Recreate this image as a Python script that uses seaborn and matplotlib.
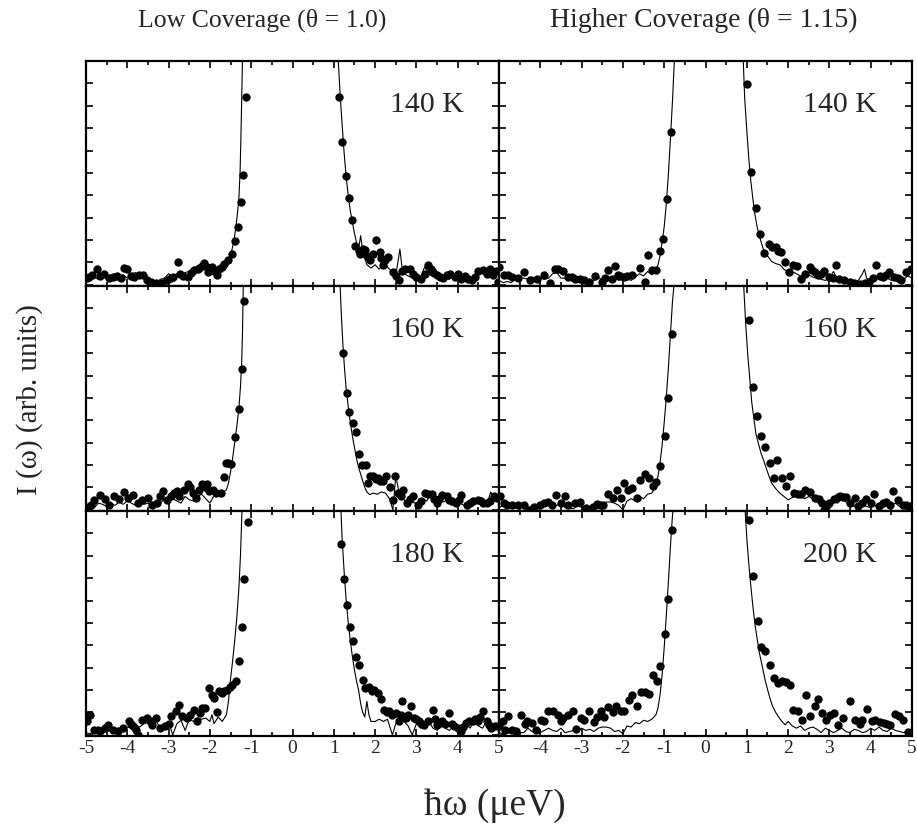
import numpy as np
import pandas as pd
import matplotlib
matplotlib.use("Agg")
import matplotlib.pyplot as plt
from matplotlib.ticker import MultipleLocator
import seaborn as sns

# ---------------- data (y in tick units, 0..10 per panel) ----------------
col_titles = ["Low Coverage (\u03b8 = 1.0)", "Higher Coverage (\u03b8 = 1.15)"]
panel_labels = [["140 K", "140 K"], ["160 K", "160 K"], ["180 K", "200 K"]]
x_ticks = [-5, -4, -3, -2, -1, 0, 1, 2, 3, 4, 5]

low140_dots = [(-4.98,0.3),(-4.93,0.36),(-4.85,0.45),(-4.74,0.73),(-4.65,0.4),(-4.56,0.5),(-4.45,0.3),(-4.35,0.35),
    (-4.24,0.4),(-4.15,0.3),(-4.07,0.75),(-4.0,0.73),(-3.9,0.4),(-3.83,0.36),(-3.72,0.45),(-3.63,0.43),(-3.52,0.2),
    (-3.43,0.13),(-3.3,0.1),(-3.15,0.09),(-3.05,0.2),(-2.95,0.3),(-2.9,0.36),(-2.78,1.0),(-2.72,0.5),(-2.66,0.39),
    (-2.54,0.36),(-2.45,0.55),(-2.38,0.65),(-2.3,0.7),(-2.26,0.77),(-2.2,0.85),(-2.14,0.98),(-2.08,0.8),(-2.04,0.58),
    (-1.96,0.8),(-1.9,0.6),(-1.83,0.43),(-1.77,0.73),(-1.7,0.8),(-1.65,0.95),(-1.55,1.13),(-1.46,1.39),(-1.40,1.97),
    (-1.32,2.6),(-1.25,3.69),(-1.19,4.93),(-1.12,8.4),
    (1.12,8.4),(1.21,6.37),(1.29,4.86),(1.36,3.87),(1.45,2.9),(1.52,1.72),(1.6,1.5),(1.63,1.36),(1.7,1.6),(1.75,1.54),
    (1.8,1.3),(1.87,1.1),(1.95,1.4),(2.03,1.99),(2.11,1.47),(2.15,1.2),(2.19,0.87),(2.25,1.1),(2.31,1.24),(2.43,0.58),
    (2.5,0.4),(2.59,0.21),(2.66,0.6),(2.72,0.73),(2.84,0.73),(2.92,0.5),(3.0,0.36),(3.12,0.28),(3.2,0.5),(3.29,0.87),
    (3.35,0.7),(3.41,0.58),(3.5,0.45),(3.57,0.36),(3.65,0.3),(3.73,0.43),(3.82,0.5),(3.93,0.36),(4.0,0.5),(4.09,0.28),
    (4.17,0.4),(4.26,0.28),(4.35,0.2),(4.42,0.35),(4.5,0.62),(4.62,0.65),(4.7,0.5),(4.78,0.73),(4.86,0.43),(4.93,0.6),
    (4.98,0.13)]
low140_fit = [(-5.0,0.3),(-4.9,0.2),(-4.8,0.35),(-4.7,0.25),(-4.6,0.4),(-4.5,0.3),(-4.4,0.35),(-4.3,0.2),(-4.2,0.3),
    (-4.1,0.45),(-4.0,0.3),(-3.9,0.5),(-3.8,0.55),(-3.7,0.4),(-3.6,0.3),(-3.5,0.2),(-3.4,0.15),(-3.3,0.1),(-3.2,0.25),
    (-3.1,0.3),(-3.0,0.5),(-2.9,0.35),(-2.8,0.5),(-2.7,0.4),(-2.6,0.55),(-2.5,0.6),(-2.4,0.5),(-2.3,0.7),(-2.2,0.65),
    (-2.1,0.8),(-2.0,0.6),(-1.9,0.7),(-1.8,0.55),(-1.7,0.8),(-1.6,1.0),(-1.5,1.3),(-1.45,1.7),(-1.4,2.2),(-1.35,2.9),
    (-1.3,3.8),(-1.27,5.0),(-1.25,6.5),(-1.23,8.3),(-1.21,10.2),(0.0,60.0),(1.1,10.3),(1.15,8.6),(1.2,7.2),(1.25,5.9),
    (1.3,4.8),(1.35,4.0),(1.4,3.3),(1.45,2.8),(1.5,2.3),(1.55,1.9),(1.6,1.6),(1.65,2.2),(1.7,1.5),(1.8,0.9),(1.9,0.75),
    (2.0,0.9),(2.1,0.7),(2.2,0.95),(2.3,0.8),(2.4,0.6),(2.5,0.4),(2.55,1.0),(2.6,1.6),(2.65,0.8),(2.7,0.5),(2.8,0.4),
    (2.9,0.3),(3.0,0.5),(3.1,0.35),(3.2,0.8),(3.3,0.5),(3.4,0.35),(3.5,0.5),(3.6,0.4),(3.7,0.3),(3.8,0.25),(3.9,0.4),
    (4.0,0.3),(4.1,0.5),(4.2,0.35),(4.3,0.3),(4.4,0.2),(4.5,0.45),(4.6,0.6),(4.7,0.5),(4.8,0.55),(4.9,0.6),(5.0,0.7)]

low160_dots = [(-4.95,0.15),(-4.89,0.24),(-4.8,0.45),(-4.66,0.68),(-4.55,0.5),(-4.44,0.24),(-4.32,0.61),(-4.2,0.5),
    (-4.09,0.79),(-3.99,0.53),(-3.85,0.68),(-3.75,0.31),(-3.65,0.45),(-3.51,0.53),(-3.39,0.24),(-3.27,0.31),(-3.2,0.6),
    (-3.13,0.86),(-3.03,0.46),(-2.95,0.6),(-2.88,0.76),(-2.8,0.85),(-2.74,0.64),(-2.62,0.9),(-2.54,1.17),(-2.48,1.0),
    (-2.42,0.76),(-2.34,0.53),(-2.27,0.9),(-2.2,1.17),(-2.12,1.0),(-2.07,1.16),(-2.01,0.83),(-1.92,0.9),(-1.85,0.76),
    (-1.73,0.76),(-1.67,1.45),(-1.61,2.09),(-1.55,2.1),(-1.49,2.06),(-1.39,3.27),(-1.30,4.49),(-1.23,6.28),(-1.18,9.32),
    (1.23,6.99),(1.31,5.21),(1.38,4.36),(1.46,3.88),(1.53,3.47),(1.6,2.5),(1.68,1.99),(1.78,1.99),(1.83,1.2),(1.88,1.5),
    (1.95,1.5),(2.01,1.4),(2.07,1.42),(2.13,1.3),(2.19,1.27),(2.27,1.5),(2.35,1.02),(2.43,0.46),(2.48,1.53),(2.56,0.76),
    (2.62,0.6),(2.68,0.9),(2.78,0.31),(2.85,0.5),(2.92,0.64),(3.04,0.24),(3.1,0.4),(3.2,0.76),(3.28,0.7),(3.37,0.73),
    (3.43,0.5),(3.49,0.31),(3.55,0.5),(3.61,0.68),(3.73,0.61),(3.8,0.45),(3.85,0.39),(3.95,0.3),(4.02,0.45),(4.09,0.68),
    (4.22,0.24),(4.3,0.3),(4.38,0.39),(4.5,0.46),(4.56,0.4),(4.62,0.31),(4.7,0.3),(4.79,0.39),(4.88,0.6),(4.94,0.53)]
low160_fit = [(-5.0,0.15),(-4.9,0.2),(-4.8,0.1),(-4.7,0.3),(-4.6,0.25),(-4.5,0.15),(-4.4,0.3),(-4.3,0.2),(-4.2,0.35),
    (-4.1,0.25),(-4.0,0.4),(-3.9,0.3),(-3.8,0.2),(-3.7,0.35),(-3.6,0.25),(-3.5,0.3),(-3.4,0.2),(-3.3,0.4),(-3.2,0.3),
    (-3.1,0.5),(-3.0,0.35),(-2.9,0.5),(-2.8,0.4),(-2.7,0.3),(-2.6,0.6),(-2.5,0.45),(-2.4,0.4),(-2.3,0.6),(-2.2,0.7),
    (-2.1,0.5),(-2.0,0.3),(-1.9,0.65),(-1.8,0.7),(-1.7,0.75),(-1.6,0.9),(-1.55,1.2),(-1.5,1.7),(-1.45,2.3),(-1.4,3.0),
    (-1.35,3.7),(-1.3,4.5),(-1.26,5.5),(-1.23,6.6),(-1.21,8.0),(-1.19,10.2),(0.0,60.0),(1.15,10.2),(1.18,8.8),(1.22,7.4),
    (1.26,6.3),(1.3,5.4),(1.35,4.6),(1.4,3.9),(1.45,3.3),(1.5,2.8),(1.55,2.3),(1.6,1.9),(1.65,1.6),(1.7,1.3),(1.75,1.0),
    (1.8,0.8),(1.87,0.68),(1.95,0.75),(2.05,0.7),(2.15,0.8),(2.25,0.75),(2.35,0.5),(2.43,0.0),(2.5,1.5),(2.58,0.8),
    (2.65,0.5),(2.75,0.4),(2.85,0.5),(2.95,0.3),(3.05,0.35),(3.15,0.5),(3.25,0.4),(3.35,0.7),(3.45,0.3),(3.55,0.5),
    (3.65,0.35),(3.75,0.45),(3.85,0.2),(3.95,0.4),(4.05,0.3),(4.15,0.2),(4.25,0.35),(4.35,0.3),(4.45,0.4),(4.55,0.3),
    (4.65,0.2),(4.75,0.5),(4.8,0.8),(4.9,0.4),(5.0,0.5)]

low180_dots = [(-4.98,0.6),(-4.9,0.9),(-4.8,0.24),(-4.72,0.2),(-4.66,0.16),(-4.55,0.3),(-4.46,0.46),(-4.35,0.2),
    (-4.22,0.16),(-4.1,0.3),(-3.97,0.61),(-3.9,0.5),(-3.85,0.39),(-3.78,0.2),(-3.73,0.01),(-3.65,0.68),(-3.53,0.76),
    (-3.45,0.6),(-3.4,0.46),(-3.3,0.76),(-3.2,0.31),(-3.08,0.39),(-3.0,0.5),(-2.95,0.83),(-2.83,1.05),(-2.76,1.35),
    (-2.67,0.83),(-2.56,0.76),(-2.48,0.9),(-2.39,1.13),(-2.31,0.64),(-2.23,0.98),(-2.18,1.2),(-2.11,1.2),(-2.03,2.09),
    (-1.95,1.79),(-1.91,1.64),(-1.83,1.02),(-1.79,1.94),(-1.71,1.87),(-1.65,1.95),(-1.59,2.01),(-1.52,2.15),(-1.46,2.24),
    (-1.38,2.39),(-1.29,3.32),(-1.22,4.83),(-1.17,6.98),(-1.08,9.53),
    (1.18,8.53),(1.25,6.98),(1.33,5.82),(1.39,4.83),(1.47,4.19),(1.54,3.5),(1.62,3.13),(1.7,2.43),(1.75,2.09),(1.85,2.16),
    (1.92,1.95),(1.97,2.01),(2.06,1.87),(2.14,1.6),(2.22,1.13),(2.3,1.0),(2.34,1.05),(2.42,0.9),(2.5,0.98),(2.58,0.6),
    (2.62,0.9),(2.66,1.53),(2.74,0.76),(2.8,0.9),(2.86,1.27),(2.94,0.76),(3.0,0.7),(3.07,0.61),(3.13,0.5),(3.19,0.46),
    (3.27,0.6),(3.39,1.13),(3.45,0.7),(3.51,0.46),(3.57,0.55),(3.63,0.61),(3.7,0.5),(3.79,0.98),(3.86,0.5),(3.92,0.39),
    (4.0,0.3),(4.08,0.16),(4.14,0.35),(4.2,0.53),(4.28,0.6),(4.36,0.61),(4.42,0.7),(4.48,0.61),(4.55,0.8),(4.61,1.05),
    (4.7,0.6),(4.76,0.45),(4.81,0.31),(4.9,0.4),(4.97,0.39)]
low180_fit = [(-5.0,0.1),(-4.9,0.05),(-4.8,0.15),(-4.7,0.1),(-4.6,0.05),(-4.5,0.2),(-4.4,0.15),(-4.3,0.3),(-4.2,0.25),
    (-4.1,0.2),(-4.0,0.35),(-3.9,0.3),(-3.8,0.45),(-3.7,0.35),(-3.6,0.5),(-3.5,0.55),(-3.4,0.45),(-3.3,0.6),(-3.2,0.3),
    (-3.1,0.4),(-3.0,0.6),(-2.9,0.0),(-2.8,0.5),(-2.7,0.65),(-2.6,0.2),(-2.5,0.7),(-2.4,0.6),(-2.3,0.75),(-2.2,0.7),
    (-2.1,0.75),(-2.0,0.6),(-1.95,0.9),(-1.9,0.5),(-1.8,0.8),(-1.7,0.6),(-1.6,0.9),(-1.55,1.5),(-1.5,2.5),(-1.45,3.3),
    (-1.4,4.2),(-1.35,5.2),(-1.3,6.5),(-1.26,8.0),(-1.22,10.2),(0.0,60.0),(1.17,10.2),(1.2,8.8),(1.25,7.3),(1.3,6.0),
    (1.35,5.0),(1.4,4.2),(1.45,3.5),(1.5,2.9),(1.55,2.4),(1.6,2.0),(1.65,1.4),(1.7,1.0),(1.75,0.8),(1.8,1.5),(1.85,0.9),
    (1.9,0.6),(2.0,0.6),(2.1,0.7),(2.2,0.6),(2.3,0.7),(2.35,0.4),(2.42,0.0),(2.5,0.5),(2.6,0.7),(2.7,0.6),(2.8,0.4),
    (2.9,0.0),(3.0,0.5),(3.1,0.3),(3.2,0.4),(3.3,0.6),(3.4,0.3),(3.5,0.2),(3.6,0.5),(3.7,0.3),(3.8,0.2),(3.9,0.4),
    (4.0,0.1),(4.1,0.3),(4.2,0.5),(4.3,0.3),(4.4,0.6),(4.5,0.4),(4.6,0.3),(4.7,0.6),(4.8,0.3),(4.9,0.4),(5.0,0.2)]

high140_dots = [(-5.0,0.8),(-4.89,0.43),(-4.79,0.43),(-4.69,0.36),(-4.55,0.3),(-4.4,0.58),(-4.24,0.21),(-4.08,0.28),
    (-3.92,0.43),(-3.76,0.09),(-3.64,0.73),(-3.56,0.73),(-3.44,0.62),(-3.32,0.36),(-3.24,0.35),(-3.16,0.28),(-3.05,0.25),
    (-2.95,0.21),(-2.83,0.13),(-2.67,0.39),(-2.51,0.13),(-2.43,0.3),(-2.35,0.65),(-2.27,0.28),(-2.19,0.83),(-2.13,0.45),
    (-2.07,0.39),(-1.98,0.35),(-1.91,0.39),(-1.79,0.43),(-1.59,0.76),(-1.47,0.13),(-1.4,1.32),(-1.3,0.65),(-1.2,0.68),
    (-1.1,1.51),(-1.02,2.03),(-0.93,3.84),(-0.83,6.83),
    (1.01,8.99),(1.11,5.05),(1.23,3.44),(1.31,2.28),(1.42,1.44),(1.54,1.81),(1.62,1.7),(1.7,1.69),(1.76,1.5),(1.84,1.47),
    (1.92,1.02),(2.02,0.58),(2.12,0.87),(2.22,0.83),(2.32,0.28),(2.42,0.5),(2.52,0.8),(2.58,0.65),(2.64,0.58),(2.72,0.43),
    (2.8,0.5),(2.88,0.62),(3.0,0.36),(3.08,0.3),(3.16,0.9),(3.24,0.28),(3.35,0.2),(3.49,0.13),(3.6,0.1),(3.73,0.03),
    (3.85,0.1),(3.97,0.13),(4.05,0.3),(4.13,0.87),(4.22,0.4),(4.29,0.36),(4.37,0.45),(4.45,0.58),(4.57,0.36),(4.65,0.3),
    (4.73,0.21),(4.85,0.58),(4.98,0.73)]
high140_fit = [(-5.0,0.2),(-4.9,0.1),(-4.8,0.15),(-4.7,0.1),(-4.6,0.3),(-4.5,0.3),(-4.4,0.3),(-4.3,0.25),(-4.2,0.35),
    (-4.1,0.3),(-4.0,0.3),(-3.9,0.25),(-3.8,0.3),(-3.7,0.5),(-3.6,0.55),(-3.5,0.3),(-3.4,0.3),(-3.3,0.3),(-3.2,0.2),
    (-3.1,0.25),(-3.0,0.2),(-2.9,0.15),(-2.8,0.1),(-2.7,0.2),(-2.6,0.35),(-2.5,0.2),(-2.4,0.3),(-2.3,0.35),(-2.2,0.3),
    (-2.1,0.2),(-2.0,0.35),(-1.9,0.3),(-1.8,0.2),(-1.7,0.35),(-1.6,0.5),(-1.5,0.4),(-1.4,0.6),(-1.3,0.45),(-1.2,0.7),
    (-1.15,0.9),(-1.1,1.3),(-1.05,1.9),(-1.0,2.6),(-0.95,3.6),(-0.9,4.9),(-0.85,6.5),(-0.8,8.2),(-0.75,10.2),(0.0,60.0),
    (0.91,10.2),(0.95,8.3),(1.0,6.9),(1.05,5.6),(1.1,4.6),(1.15,3.8),(1.2,3.1),(1.25,2.6),(1.3,2.2),(1.35,1.9),(1.4,1.6),
    (1.5,1.3),(1.6,1.05),(1.7,0.95),(1.8,0.9),(1.9,0.7),(2.0,0.55),(2.1,0.6),(2.2,0.5),(2.3,0.4),(2.4,0.35),(2.5,0.45),
    (2.6,0.35),(2.7,0.3),(2.8,0.25),(2.9,0.2),(3.0,0.3),(3.1,0.6),(3.2,0.2),(3.3,0.15),(3.4,0.1),(3.5,0.15),(3.6,0.1),
    (3.7,0.2),(3.8,0.5),(3.85,0.7),(3.9,0.3),(4.0,0.2),(4.1,0.35),(4.2,0.3),(4.3,0.45),(4.4,0.3),(4.5,0.2),(4.6,0.3),
    (4.7,0.35),(4.8,0.25),(4.9,0.4),(5.0,0.3)]

high160_dots = [(-4.98,0.64),(-4.89,0.31),(-4.8,0.2),(-4.69,0.24),(-4.55,0.2),(-4.4,0.24),(-4.28,0.0),(-4.15,0.15),
    (-4.0,0.24),(-3.92,0.31),(-3.82,0.35),(-3.72,0.24),(-3.61,0.65),(-3.51,0.31),(-3.41,0.61),(-3.32,0.24),(-3.15,0.3),
    (-3.03,0.36),(-2.9,0.1),(-2.81,0.01),(-2.72,0.15),(-2.63,0.27),(-2.55,0.2),(-2.47,0.24),(-2.35,0.73),(-2.25,0.53),
    (-2.15,0.9),(-2.05,0.53),(-1.97,1.2),(-1.87,0.9),(-1.79,0.98),(-1.67,0.53),(-1.59,1.32),(-1.47,1.61),(-1.38,1.42),
    (-1.28,1.05),(-1.2,1.23),(-1.1,1.94),(-0.99,3.3),(-0.91,4.98),(-0.81,7.84),
    (1.05,8.5),(1.14,5.48),(1.25,4.21),(1.34,3.32),(1.45,2.79),(1.55,2.09),(1.65,1.42),(1.74,2.21),(1.85,1.42),(1.94,1.08),
    (2.04,1.5),(2.14,0.76),(2.24,0.73),(2.32,0.7),(2.42,0.9),(2.54,0.79),(2.64,0.53),(2.74,0.49),(2.82,0.3),(2.88,0.01),
    (2.95,0.2),(3.0,0.31),(3.12,0.49),(3.2,0.58),(3.26,0.6),(3.32,0.58),(3.4,0.58),(3.49,0.31),(3.61,0.53),(3.7,0.19),
    (3.8,0.3),(3.88,0.49),(4.0,0.3),(4.09,0.71),(4.21,0.19),(4.3,0.3),(4.37,0.34),(4.46,0.2),(4.55,0.86),(4.65,0.46),
    (4.77,0.24),(4.85,0.2),(4.94,0.16)]
high160_fit = [(-5.0,0.1),(-4.9,0.2),(-4.8,0.15),(-4.7,0.05),(-4.6,0.1),(-4.5,0.15),(-4.4,0.1),(-4.3,0.05),(-4.2,0.2),
    (-4.1,0.25),(-4.0,0.1),(-3.9,0.2),(-3.8,0.3),(-3.7,0.25),(-3.6,0.2),(-3.5,0.3),(-3.4,0.1),(-3.3,0.1),(-3.2,0.05),
    (-3.1,0.2),(-3.0,0.1),(-2.9,0.05),(-2.8,0.15),(-2.7,0.2),(-2.6,0.25),(-2.5,0.3),(-2.4,0.35),(-2.3,0.35),(-2.2,0.3),
    (-2.1,0.2),(-2.0,0.0),(-1.9,0.4),(-1.8,0.5),(-1.7,0.4),(-1.6,0.6),(-1.5,0.5),(-1.4,0.7),(-1.3,0.75),(-1.25,0.9),
    (-1.2,1.1),(-1.15,1.5),(-1.1,2.1),(-1.05,2.9),(-1.0,3.9),(-0.95,5.0),(-0.9,6.3),(-0.85,7.8),(-0.8,9.3),(-0.75,10.3),
    (0.0,60.0),(0.92,10.2),(0.97,8.4),(1.02,7.0),(1.07,5.9),(1.12,4.8),(1.17,4.1),(1.22,3.4),(1.29,2.9),(1.35,2.5),
    (1.41,2.2),(1.5,1.7),(1.6,1.2),(1.7,0.95),(1.8,0.75),(1.9,0.6),(2.0,0.45),(2.1,0.55),(2.2,0.68),(2.3,0.6),(2.4,0.5),
    (2.5,0.6),(2.6,0.5),(2.7,0.35),(2.8,0.2),(2.9,0.05),(3.0,0.25),(3.1,0.4),(3.2,0.3),(3.3,0.5),(3.4,0.35),(3.5,0.25),
    (3.6,0.15),(3.7,0.2),(3.8,0.3),(3.9,0.15),(4.0,0.1),(4.1,0.2),(4.2,0.15),(4.3,0.3),(4.4,0.25),(4.5,0.2),(4.6,0.3),
    (4.7,0.15),(4.8,0.2),(4.9,0.3),(5.0,0.2)]

high200_dots = [(-5.0,0.4),(-4.91,0.61),(-4.85,0.2),(-4.77,0.83),(-4.68,0.2),(-4.59,0.16),(-4.47,0.9),(-4.38,0.5),
    (-4.31,0.64),(-4.2,0.53),(-4.11,0.24),(-3.99,0.68),(-3.9,0.6),(-3.82,1.08),(-3.7,1.05),(-3.58,0.87),(-3.5,0.6),
    (-3.46,0.76),(-3.34,0.9),(-3.22,1.08),(-3.14,0.28),(-3.02,0.76),(-2.94,0.68),(-2.82,1.05),(-2.7,0.58),(-2.62,0.8),
    (-2.54,1.08),(-2.46,0.79),(-2.35,1.23),(-2.25,1.01),(-2.16,1.27),(-2.05,1.08),(-1.97,1.08),(-1.85,1.57),(-1.77,1.79),
    (-1.67,1.27),(-1.57,1.91),(-1.47,1.91),(-1.37,1.84),(-1.27,2.68),(-1.17,2.39),(-1.1,3.08),(-0.99,4.49),(-0.9,6.09),
    (-0.81,9.13),
    (1.06,9.6),(1.15,7.1),(1.26,5.08),(1.34,3.94),(1.45,3.76),(1.55,3.13),(1.65,2.53),(1.76,2.31),(1.85,2.41),(1.95,2.36),
    (2.05,2.21),(2.13,1.13),(2.24,1.05),(2.33,0.68),(2.44,1.76),(2.54,0.86),(2.64,1.27),(2.73,1.6),(2.82,0.98),(2.92,0.68),
    (3.02,0.9),(3.12,0.98),(3.22,0.46),(3.34,0.76),(3.5,1.5),(3.61,0.68),(3.73,0.49),(3.78,0.68),(3.9,1.16),(4.03,0.61),
    (4.11,0.68),(4.23,0.58),(4.33,0.53),(4.4,0.5),(4.47,0.46),(4.59,0.93),(4.69,0.83),(4.79,0.68),(4.91,0.13)]
high200_fit = [(-5.0,0.1),(-4.9,0.05),(-4.8,0.1),(-4.7,0.05),(-4.6,0.15),(-4.5,0.1),(-4.4,0.1),(-4.3,0.3),(-4.2,0.15),
    (-4.1,0.1),(-4.0,0.1),(-3.9,0.2),(-3.8,0.3),(-3.7,0.2),(-3.6,0.15),(-3.5,0.3),(-3.4,0.1),(-3.3,0.15),(-3.2,0.2),
    (-3.1,0.15),(-3.0,0.3),(-2.9,0.2),(-2.8,0.25),(-2.7,0.15),(-2.6,0.3),(-2.5,0.35),(-2.4,0.35),(-2.3,0.3),(-2.2,0.15),
    (-2.1,0.2),(-2.0,0.05),(-1.9,0.4),(-1.8,0.35),(-1.7,0.55),(-1.6,0.5),(-1.5,0.65),(-1.4,0.6),(-1.3,0.7),(-1.2,0.9),
    (-1.15,1.2),(-1.1,1.8),(-1.05,2.7),(-1.0,3.9),(-0.95,5.3),(-0.9,6.8),(-0.85,8.4),(-0.8,9.8),(-0.75,10.5),(0.0,60.0),
    (0.95,10.3),(1.0,8.8),(1.05,7.6),(1.1,6.6),(1.15,5.7),(1.2,4.9),(1.25,4.3),(1.3,3.7),(1.37,3.1),(1.45,2.4),(1.55,1.7),
    (1.62,1.3),(1.7,1.0),(1.77,0.8),(1.85,0.6),(1.93,0.45),(2.0,0.6),(2.1,0.4),(2.2,0.3),(2.3,0.4),(2.4,0.2),(2.5,0.3),
    (2.6,0.35),(2.7,0.25),(2.8,0.1),(2.9,0.3),(3.0,0.2),(3.1,0.1),(3.2,0.2),(3.3,0.3),(3.4,0.15),(3.5,0.1),(3.6,0.25),
    (3.7,0.2),(3.8,0.1),(3.9,0.15),(4.0,0.3),(4.1,0.2),(4.2,0.35),(4.3,0.2),(4.4,0.15),(4.5,0.3),(4.6,0.2),(4.7,0.15),
    (4.8,0.1),(4.9,0.2),(5.0,0.1)]

panels = [[(low140_dots, low140_fit), (high140_dots, high140_fit)],
          [(low160_dots, low160_fit), (high160_dots, high160_fit)],
          [(low180_dots, low180_fit), (high200_dots, high200_fit)]]

# ---------------- style ----------------
sns.set_style("ticks")
plt.rcParams['font.family'] = ['Liberation Serif', 'DejaVu Serif']
plt.rcParams['mathtext.fontset'] = 'stix'

W, H = 917, 837
fig = plt.figure(figsize=(W / 100, H / 100), dpi=100)
L, R, T, B = 86 / W, 912 / W, 1 - 62 / H, 1 - 737 / H
gs = fig.add_gridspec(3, 2, left=L, right=R, top=T, bottom=B, wspace=0, hspace=0)

for r in range(3):
    for c in range(2):
        ax = fig.add_subplot(gs[r, c])
        dots, fit = panels[r][c]
        ddf = pd.DataFrame(dots, columns=["x", "y"])
        fdf = pd.DataFrame(fit, columns=["x", "y"])
        sns.lineplot(data=fdf, x="x", y="y", ax=ax, color="black", lw=0.8,
                     estimator=None, sort=False, legend=False)
        sns.scatterplot(data=ddf, x="x", y="y", ax=ax, color="black", s=36,
                        edgecolor="black", linewidth=0, legend=False, zorder=3)
        ax.set_xlim(-5, 5)
        ax.set_ylim(-0.05, 10)
        ax.set_xlabel("")
        ax.set_ylabel("")
        ax.xaxis.set_major_locator(MultipleLocator(1))
        ax.xaxis.set_minor_locator(MultipleLocator(0.5))
        ax.yaxis.set_major_locator(MultipleLocator(1))
        ax.tick_params(axis="both", which="both", direction="in", top=True, right=True,
                       width=1.2, color="black")
        ax.tick_params(axis="both", which="major", length=5)
        ax.tick_params(axis="x", which="minor", length=3)
        ax.set_yticklabels([])
        for sp in ax.spines.values():
            sp.set_linewidth(1.6)
            sp.set_color("black")
        if r == 2:
            ax.set_xticks(x_ticks)
            labels = [str(t) for t in x_ticks]
            if c == 1:
                labels[0] = ""
            ax.set_xticklabels(labels, fontsize=14)
            ax.tick_params(axis="x", which="major", pad=2)
        else:
            ax.set_xticklabels([])
        ax.text(0.915, 0.81, panel_labels[r][c], transform=ax.transAxes,
                ha="right", va="center", fontsize=21.5)

fig.text(262 / W, 1 - 20 / H, col_titles[0], ha="center", va="center", fontsize=18.5)
fig.text(704 / W, 1 - 20 / H, col_titles[1], ha="center", va="center", fontsize=20)
fig.text(30 / W, 1 - 400 / H, "I (\u03c9) (arb. units)", rotation=90,
         ha="center", va="center", fontsize=21)
fig.text(495 / W, 1 - 806 / H, "\u0127\u03c9 (\u03bceV)", ha="center", va="center", fontsize=27)

fig.savefig("out.png", dpi=100)
